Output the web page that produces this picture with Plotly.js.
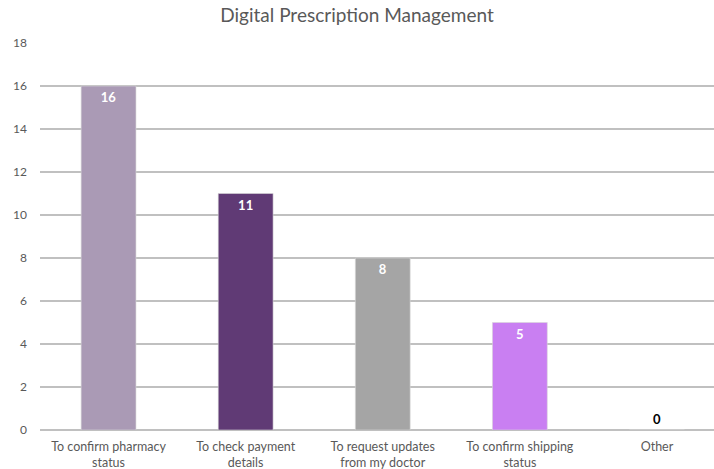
<!DOCTYPE html>
<html><head><meta charset="utf-8">
<script src="https://cdn.plot.ly/plotly-3.0.1.min.js"></script>
<style>html,body{margin:0;padding:0;background:#fff}#chart{width:714px;height:469px}</style>
</head><body><div id="chart"></div>
<script>
const categories = ["To confirm pharmacy<br>status", "To check payment<br>details", "To request updates<br>from my doctor", "To confirm shipping<br>status", "Other"];
const values = [16, 11, 8, 5, 0];
const barColors = ["#AA9AB5", "#603A75", "#A5A5A5", "#C97FF2", "#FFFFFF"];
const labelColors = ["#FFFFFF", "#FFFFFF", "#FFFFFF", "#FFFFFF", "#000000"];
const labelPositions = ["inside", "inside", "inside", "inside", "outside"];
const yTicks = [0, 2, 4, 6, 8, 10, 12, 14, 16, 18];

const trace = {
  type: "bar",
  x: categories.map((_, i) => i),
  y: values,
  width: 0.4,
  marker: {color: barColors, line: {color: "#D9D9D9", width: 0.6}},
  text: values.map(String),
  textposition: labelPositions,
  insidetextanchor: "end",
  textfont: {family: "Lato, 'Open Sans', sans-serif", size: 13, color: labelColors, weight: "bold"},
  cliponaxis: false,
  hoverinfo: "skip"
};

const layout = {
  width: 714, height: 469,
  margin: {l: 40, r: 0, t: 43, b: 39},
  paper_bgcolor: "#fff", plot_bgcolor: "#fff",
  title: {text: "Digital Prescription Management", x: 0.5, xanchor: "center", y: 0.968, yanchor: "middle",
          font: {family: "Lato, 'Open Sans', sans-serif", size: 19, color: "#595959"}},
  showlegend: false,
  bargap: 0.6,
  xaxis: {
    range: [-0.5, 4.416],
    tickvals: categories.map((_, i) => i),
    ticktext: categories,
    showgrid: false, zeroline: false, showline: false, ticks: "",
    ticklabelstandoff: 7,
    tickfont: {family: "Lato, 'Open Sans', sans-serif", size: 12.5, color: "#595959"}
  },
  yaxis: {
    range: [0, 18],
    tickvals: yTicks,
    ticktext: yTicks.map(String),
    showgrid: true, gridcolor: "#C0C0C0", gridwidth: 1.5,
    zeroline: true, zerolinecolor: "#C0C0C0", zerolinewidth: 1.5,
    showline: false, ticks: "", ticklabelstandoff: 12,
    tickfont: {family: "Lato, 'Open Sans', sans-serif", size: 12, color: "#595959"}
  }
};

Plotly.newPlot("chart", [trace], layout, {displayModeBar: false, staticPlot: true});
</script></body></html>
